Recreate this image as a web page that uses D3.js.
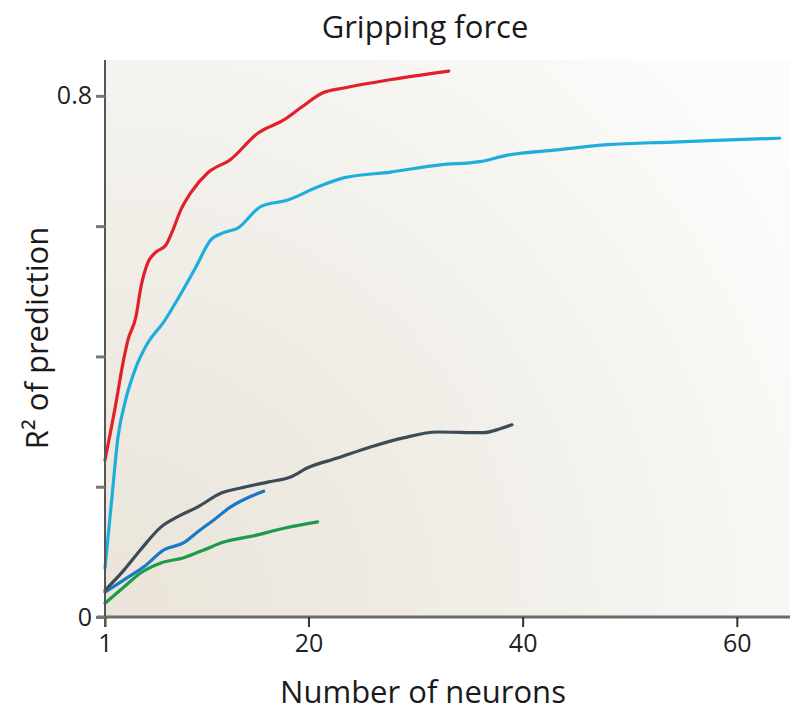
<!DOCTYPE html>
<html>
<head>
<meta charset="utf-8">
<script src="https://cdn.jsdelivr.net/npm/d3@7"></script>
<style>
  html, body { margin: 0; padding: 0; background: #ffffff; }
  svg { display: block; font-family: "Open Sans", "Lato", sans-serif; }
</style>
</head>
<body>
<svg id="chart" width="790" height="711"></svg>
<script>
// Decoding accuracy (R²) vs. number of neurons, one curve per recording
const redN   = [1, 2.03, 2.68, 3.14, 3.89, 4.36, 5.0, 5.75, 6.69, 7.34, 8.08, 9.0, 10.6, 12.7, 15.3, 17.7, 19.3, 21.4, 23.3, 27.7, 33.1];
const redR2  = [0.241, 0.329, 0.390, 0.425, 0.461, 0.507, 0.544, 0.560, 0.571, 0.594, 0.625, 0.651, 0.682, 0.702, 0.743, 0.763, 0.782, 0.805, 0.812, 0.825, 0.838];

const cyanN  = [1, 1.65, 2.21, 2.86, 3.79, 5.0, 6.41, 7.9, 9.48, 10.88, 12.09, 13.4, 15.54, 18.06, 20.85, 23.27, 27.65, 32.3, 36.0, 38.6, 43.2, 47.9, 54.0, 58.7, 64.0];
const cyanR2 = [0.075, 0.184, 0.276, 0.329, 0.379, 0.421, 0.451, 0.491, 0.537, 0.579, 0.590, 0.597, 0.630, 0.640, 0.660, 0.674, 0.683, 0.694, 0.699, 0.709, 0.717, 0.725, 0.729, 0.732, 0.735];

const greyN  = [1, 2.77, 4.36, 6.22, 7.8, 9.67, 11.81, 13.67, 16.19, 18.33, 19.92, 22.71, 25.79, 28.87, 32.03, 36.32, 37.9, 39.0];
const greyR2 = [0.041, 0.072, 0.104, 0.138, 0.154, 0.169, 0.190, 0.198, 0.207, 0.215, 0.229, 0.244, 0.261, 0.275, 0.284, 0.283, 0.289, 0.295];

const blueN  = [1, 2.77, 4.63, 6.5, 8.36, 9.67, 11.16, 12.74, 14.33, 15.82];
const blueR2 = [0.038, 0.057, 0.077, 0.103, 0.114, 0.131, 0.149, 0.169, 0.183, 0.193];

const greenN  = [1, 2.77, 4.36, 6.22, 8.36, 10.23, 12.09, 15.26, 17.12, 20.85];
const greenR2 = [0.021, 0.046, 0.068, 0.083, 0.091, 0.103, 0.115, 0.126, 0.134, 0.146];

const xTicks = [1, 20, 40, 60];
const yTicks = [0, 0.2, 0.4, 0.6, 0.8];
const yTickLabels = ["0", "", "", "", "0.8"];

const series = [
  { n: greenN, r: greenR2, color: "#1e9a4a" },
  { n: blueN,  r: blueR2,  color: "#1b78c6" },
  { n: greyN,  r: greyR2,  color: "#3d4b57" },
  { n: cyanN,  r: cyanR2,  color: "#1eaedb" },
  { n: redN,   r: redR2,   color: "#e2202a" }
];

const svg = d3.select("#chart");
const plotL = 105, plotR = 785, plotT = 60, plotB = 617;

const x = d3.scaleLinear().domain([1, 64.5]).range([plotL, plotR]);
const y = d3.scaleLinear().domain([0, 0.855]).range([plotB, plotT]);

// Plot background: warm tint at the origin fading toward the upper right
const defs = svg.append("defs");
const grad = defs.append("radialGradient")
  .attr("id", "bg").attr("gradientUnits", "userSpaceOnUse")
  .attr("cx", plotL).attr("cy", plotB).attr("r", 820);
grad.append("stop").attr("offset", "0%").attr("stop-color", "#eae4d9");
grad.append("stop").attr("offset", "35%").attr("stop-color", "#efebe4");
grad.append("stop").attr("offset", "70%").attr("stop-color", "#f5f4f0");
grad.append("stop").attr("offset", "100%").attr("stop-color", "#fcfcfb");

svg.append("rect")
  .attr("x", plotL).attr("y", plotT)
  .attr("width", plotR - plotL + 5).attr("height", plotB - plotT)
  .attr("fill", "url(#bg)");

// Curves
const line = d3.line()
  .x(d => x(d[0]))
  .y(d => y(d[1]))
  .curve(d3.curveMonotoneX);

series.forEach(s => {
  svg.append("path")
    .datum(s.n.map((v, i) => [v, s.r[i]]))
    .attr("fill", "none")
    .attr("stroke", s.color)
    .attr("stroke-width", 3.2)
    .attr("stroke-linecap", "round")
    .attr("stroke-linejoin", "round")
    .attr("d", line);
});

// Axes
const xAxis = d3.axisBottom(x).tickValues(xTicks).tickSize(10).tickPadding(7).tickSizeOuter(0);
const gx = svg.append("g").attr("transform", `translate(0,${plotB})`).call(xAxis);
gx.select(".domain").attr("stroke", "#6b6b6b").attr("stroke-width", 3)
  .attr("d", `M${plotL - 8},0H${plotR + 5}`);
gx.selectAll(".tick line").attr("stroke", "#333").attr("stroke-width", 2);
gx.selectAll(".tick text")
  .attr("fill", "#222").attr("font-size", 25).attr("font-family", "Open Sans, sans-serif");

const yAxis = d3.axisLeft(y).tickValues(yTicks)
  .tickFormat((d, i) => yTickLabels[i]).tickSize(9).tickPadding(4).tickSizeOuter(0);
const gy = svg.append("g").attr("transform", `translate(${plotL},0)`).call(yAxis);
gy.select(".domain").attr("stroke", "#555").attr("stroke-width", 2)
  .attr("d", `M0,${plotT}V${plotB + 10}`);
gy.selectAll(".tick line").attr("stroke", "#777").attr("stroke-width", 3);
gy.selectAll(".tick text")
  .attr("fill", "#222").attr("font-size", 25).attr("font-family", "Open Sans, sans-serif");

// Titles
svg.append("text")
  .attr("x", 425).attr("y", 38)
  .attr("text-anchor", "middle")
  .attr("font-size", 31).attr("fill", "#1a1a1a")
  .text("Gripping force");

svg.append("text")
  .attr("x", 423).attr("y", 703)
  .attr("text-anchor", "middle")
  .attr("font-size", 31).attr("fill", "#1a1a1a")
  .text("Number of neurons");

svg.append("text")
  .attr("transform", "translate(48,338) rotate(-90)")
  .attr("text-anchor", "middle")
  .attr("font-size", 31).attr("fill", "#1a1a1a")
  .text("R² of prediction");
</script>
</body>
</html>
